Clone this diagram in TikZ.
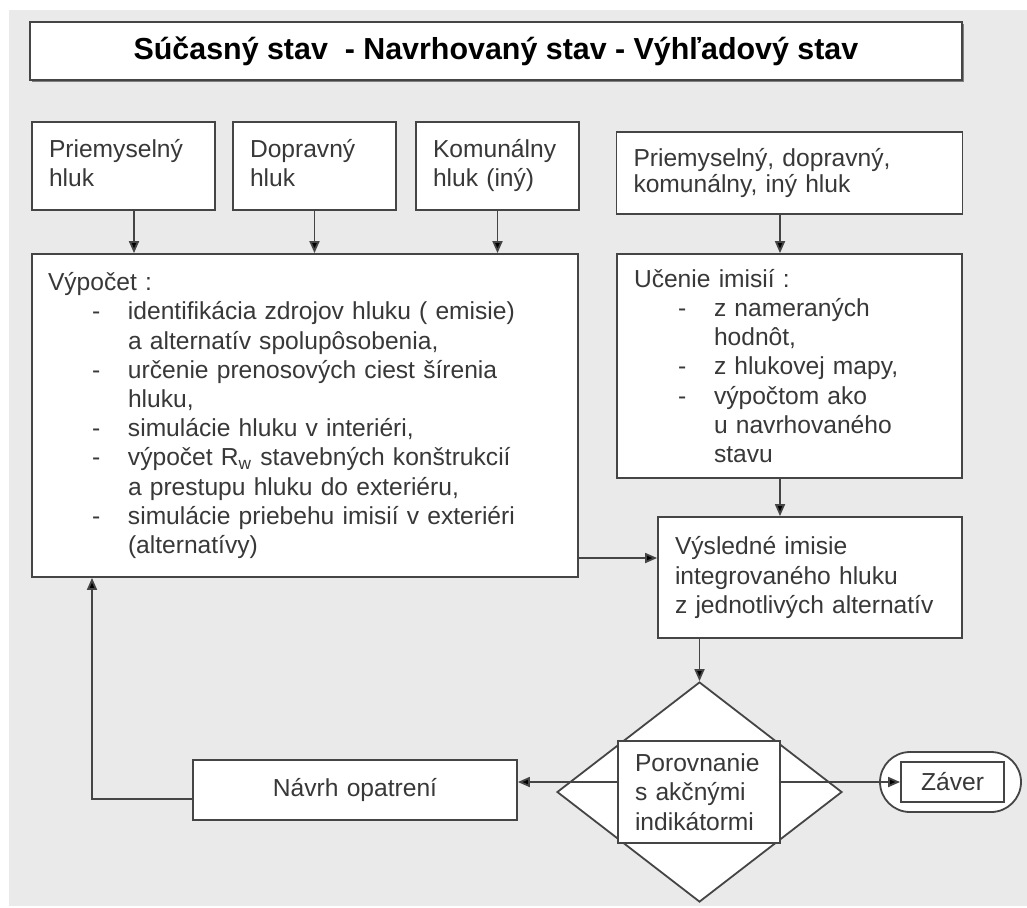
\documentclass[tikz,border=0pt]{standalone}
\usepackage{fontspec}
\setmainfont{Liberation Sans}
\usetikzlibrary{arrows.meta,positioning,shapes.geometric,shadows}
\definecolor{bggray}{HTML}{EAEAEA}
\definecolor{edge}{HTML}{454545}
\definecolor{ink}{HTML}{383838}
\newcommand{\bul}{\hspace*{22pt}\makebox[18pt][l]{-}}
\newcommand{\cont}{\hspace*{40pt}}

\begin{document}
\begin{tikzpicture}[
    x=0.5pt, y=-0.5pt,
    block/.style={draw=edge, line width=0.9pt, fill=white, text=ink, align=left, inner xsep=8.5pt, inner ysep=0pt, font=\fontsize{12.3}{14.6}\selectfont},
    title/.style={draw=edge, line width=0.9pt, fill=white, minimum width=466pt, minimum height=29pt, font=\fontsize{15.2}{18}\selectfont\bfseries,
        drop shadow={shadow xshift=1.2pt, shadow yshift=-1.2pt, fill=black!50, opacity=1}},
    dia/.style={draw=edge, line width=0.9pt, fill=white, diamond, inner sep=0pt, minimum width=142.5pt, minimum height=110pt},
    endbox/.style={draw=edge, line width=0.9pt, fill=white, rounded corners=15pt, minimum width=70.5pt, minimum height=30pt},
    arrow/.style={draw=edge, line width=0.9pt, -{Triangle[length=6pt,width=5pt,fill=black]}}
]
\useasboundingbox (0,0) rectangle (1027,907);
\fill[bggray] (9,10) rectangle (1027,906);

\node[title] (head) at (496,51) {Súčasný stav\ \ - Navrhovaný stav - Výhľadový stav};

% zdroje hluku
\node[block, text width=74.5pt, minimum height=44pt] (priem) at (123.5,166) {\strut Priemyselný\\hluk\strut};
\node[block, text width=64.5pt, minimum height=44pt] (doprava) at (314.5,166) {\strut Dopravný\\hluk\strut};
\node[block, text width=64.5pt, minimum height=44pt] (komun) at (497.5,166) {\strut Komunálny\\hluk (iný)\strut};
\node[block, text width=156pt, minimum height=41pt, font=\fontsize{12.3}{13}\selectfont] (vsetky) at (789.5,173) {Priemyselný, dopravný,\\komunálny, iný hluk};

% vypocet a urcenie
\node[block, text width=257pt, minimum height=161.5pt, inner xsep=8pt] (vypocet) at (305,415.5) {Výpočet :\\
\bul identifikácia zdrojov hluku ( emisie)\\
\cont a alternatív spolupôsobenia,\\
\bul určenie prenosových ciest šírenia\\
\cont hluku,\\
\bul simulácie hluku v interiéri,\\
\bul výpočet R\textsubscript{w} stavebných konštrukcií\\
\cont a prestupu hluku do exteriéru,\\
\bul simulácie priebehu imisií v exteriéri\\
\cont (alternatívy)};
\node[block, text width=155.5pt, minimum height=112pt] (urcenie) at (789.5,366) {Učenie imisií :\\
\bul z nameraných\\
\cont hodnôt,\\
\bul z hlukovej mapy,\\
\bul výpočtom ako\\
\cont u navrhovaného\\
\cont stavu};

\node[block, text width=135pt, minimum height=60.5pt] (vysledok) at (810,577.5) {Výsledné imisie\\integrovaného hluku\\z jednotlivých alternatív};

% porovnanie
\node[dia] (rozhod) at (699.5,792) {};
\node[block, text width=64pt, minimum height=51pt] (porov) at (699,792) {Porovnanie\\s akčnými\\indikátormi};
\node[block, text width=145pt, minimum height=30pt, align=center] (navrh) at (355,790) {Návrh opatrení};
\node[endbox] (zaver) at (950.5,782) {};
\node[block, minimum width=51.5pt, minimum height=20pt, inner xsep=0pt, align=center] (zaverin) at (952.5,782) {Záver};

% spojnice
\draw[arrow] ([xshift=5.25pt]priem.south) -- ([xshift=5.25pt]priem.south |- vypocet.north);
\draw[arrow] (doprava.south) -- (doprava.south |- vypocet.north);
\draw[arrow] (komun.south) -- (komun.south |- vypocet.north);
\draw[arrow] ([xshift=-4.75pt]vsetky.south) -- ([xshift=-4.75pt]vsetky.south |- urcenie.north);
\draw[arrow] ([xshift=-4.75pt]urcenie.south) -- ([xshift=-4.75pt]urcenie.south |- vysledok.north);
\draw[arrow] ([yshift=9.75pt]vysledok.west -| vypocet.east) -- ([yshift=9.75pt]vysledok.west);
\draw[arrow] (rozhod.north |- vysledok.south) -- (rozhod.north);
\draw[arrow] (porov.east |- zaverin.west) -- (zaverin.west);
\draw[arrow] ([yshift=5pt]porov.west) -- ([yshift=5pt]porov.west -| navrh.east);
\draw[arrow] ([yshift=-4.5pt]navrh.west) -| ([xshift=-106.5pt]vypocet.south);
\end{tikzpicture}
\end{document}
